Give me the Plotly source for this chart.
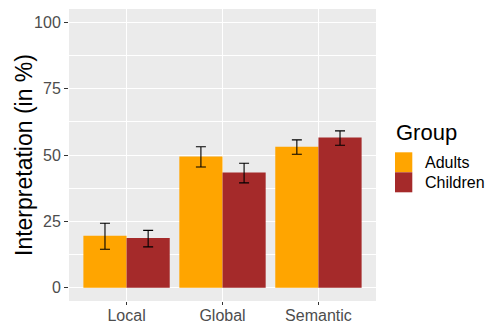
import plotly.graph_objects as go

categories = ["Local", "Global", "Semantic"]
groups = ["Adults", "Children"]
adults = [19.6, 49.4, 53.1]
adults_hi = [24.3, 53.1, 55.7]
adults_lo = [14.5, 45.5, 50.3]
children = [18.7, 43.4, 56.6]
children_hi = [21.6, 46.9, 59.1]
children_lo = [15.4, 39.5, 53.7]
colors = ["#FFA500", "#A52A2A"]
y_ticks = [0, 25, 50, 75, 100]
y_title = "Interpretation (in %)"
legend_title = "Group"

W, H = 489, 324
L, R, T, B = 69, 113, 9, 23
FONT = "Liberation Sans, Arial, sans-serif"

fig = go.Figure()
for name, vals, hi, lo, col in [
    (groups[0], adults, adults_hi, adults_lo, colors[0]),
    (groups[1], children, children_hi, children_lo, colors[1]),
]:
    fig.add_trace(go.Bar(
        x=categories, y=vals, name=name, marker_color=col,
        marker_line_width=0, showlegend=False,
        error_y=dict(type="data", symmetric=False,
                     array=[h - v for h, v in zip(hi, vals)],
                     arrayminus=[v - l for v, l in zip(vals, lo)],
                     color="black", thickness=1.1, width=5),
    ))

pw, ph = W - L - R, H - T - B
def px_x(p):
    return (p - L) / pw
def px_y(p):
    return (H - B - p) / ph

shapes = []
annotations = []
# manual legend
key_top = 152.3
key_h = 20
for i, (g, c) in enumerate(zip(groups, colors)):
    y0 = key_top + i * key_h
    shapes.append(dict(type="rect", xref="paper", yref="paper",
                       x0=px_x(395), x1=px_x(412.3),
                       y0=px_y(y0 + key_h), y1=px_y(y0),
                       fillcolor=c, line=dict(width=0), layer="above"))
    annotations.append(dict(xref="paper", yref="paper", x=px_x(423), y=px_y(y0 + key_h / 2),
                            text=g, showarrow=False, xanchor="left", yanchor="middle",
                            font=dict(size=16, color="black", family=FONT)))
annotations.append(dict(xref="paper", yref="paper", x=px_x(394), y=px_y(132),
                        text=legend_title, showarrow=False, xanchor="left", yanchor="middle",
                        font=dict(size=22, color="black", family=FONT)))
annotations.append(dict(xref="paper", yref="paper", x=px_x(24), y=px_y(155),
                        text=y_title, showarrow=False, xanchor="center", yanchor="middle",
                        textangle=-90, font=dict(size=23, color="black", family=FONT)))

fig.update_layout(
    width=W, height=H,
    margin=dict(l=L, r=R, t=T, b=B, autoexpand=False),
    paper_bgcolor="white", plot_bgcolor="#EBEBEB",
    barmode="group", bargap=0.1, bargroupgap=0,
    font=dict(family=FONT),
    shapes=shapes, annotations=annotations,
    xaxis=dict(range=[-0.6, 2.6], showgrid=True, gridcolor="white", gridwidth=1.1,
               ticks="outside", ticklen=3, tickcolor="#333333", tickwidth=1,
               ticklabelstandoff=-3,
               tickfont=dict(size=16, color="#4D4D4D"), zeroline=False, showline=False),
    yaxis=dict(range=[-5, 105], tickvals=y_ticks, showgrid=True, gridcolor="white", gridwidth=1.1,
               minor=dict(dtick=12.5, tick0=0, showgrid=True, gridcolor="white", gridwidth=0.55),
               ticks="outside", ticklen=4, tickcolor="#333333", tickwidth=1,
               tickfont=dict(size=16, color="#4D4D4D"), zeroline=False, showline=False),
)

fig.write_html("out.html")
